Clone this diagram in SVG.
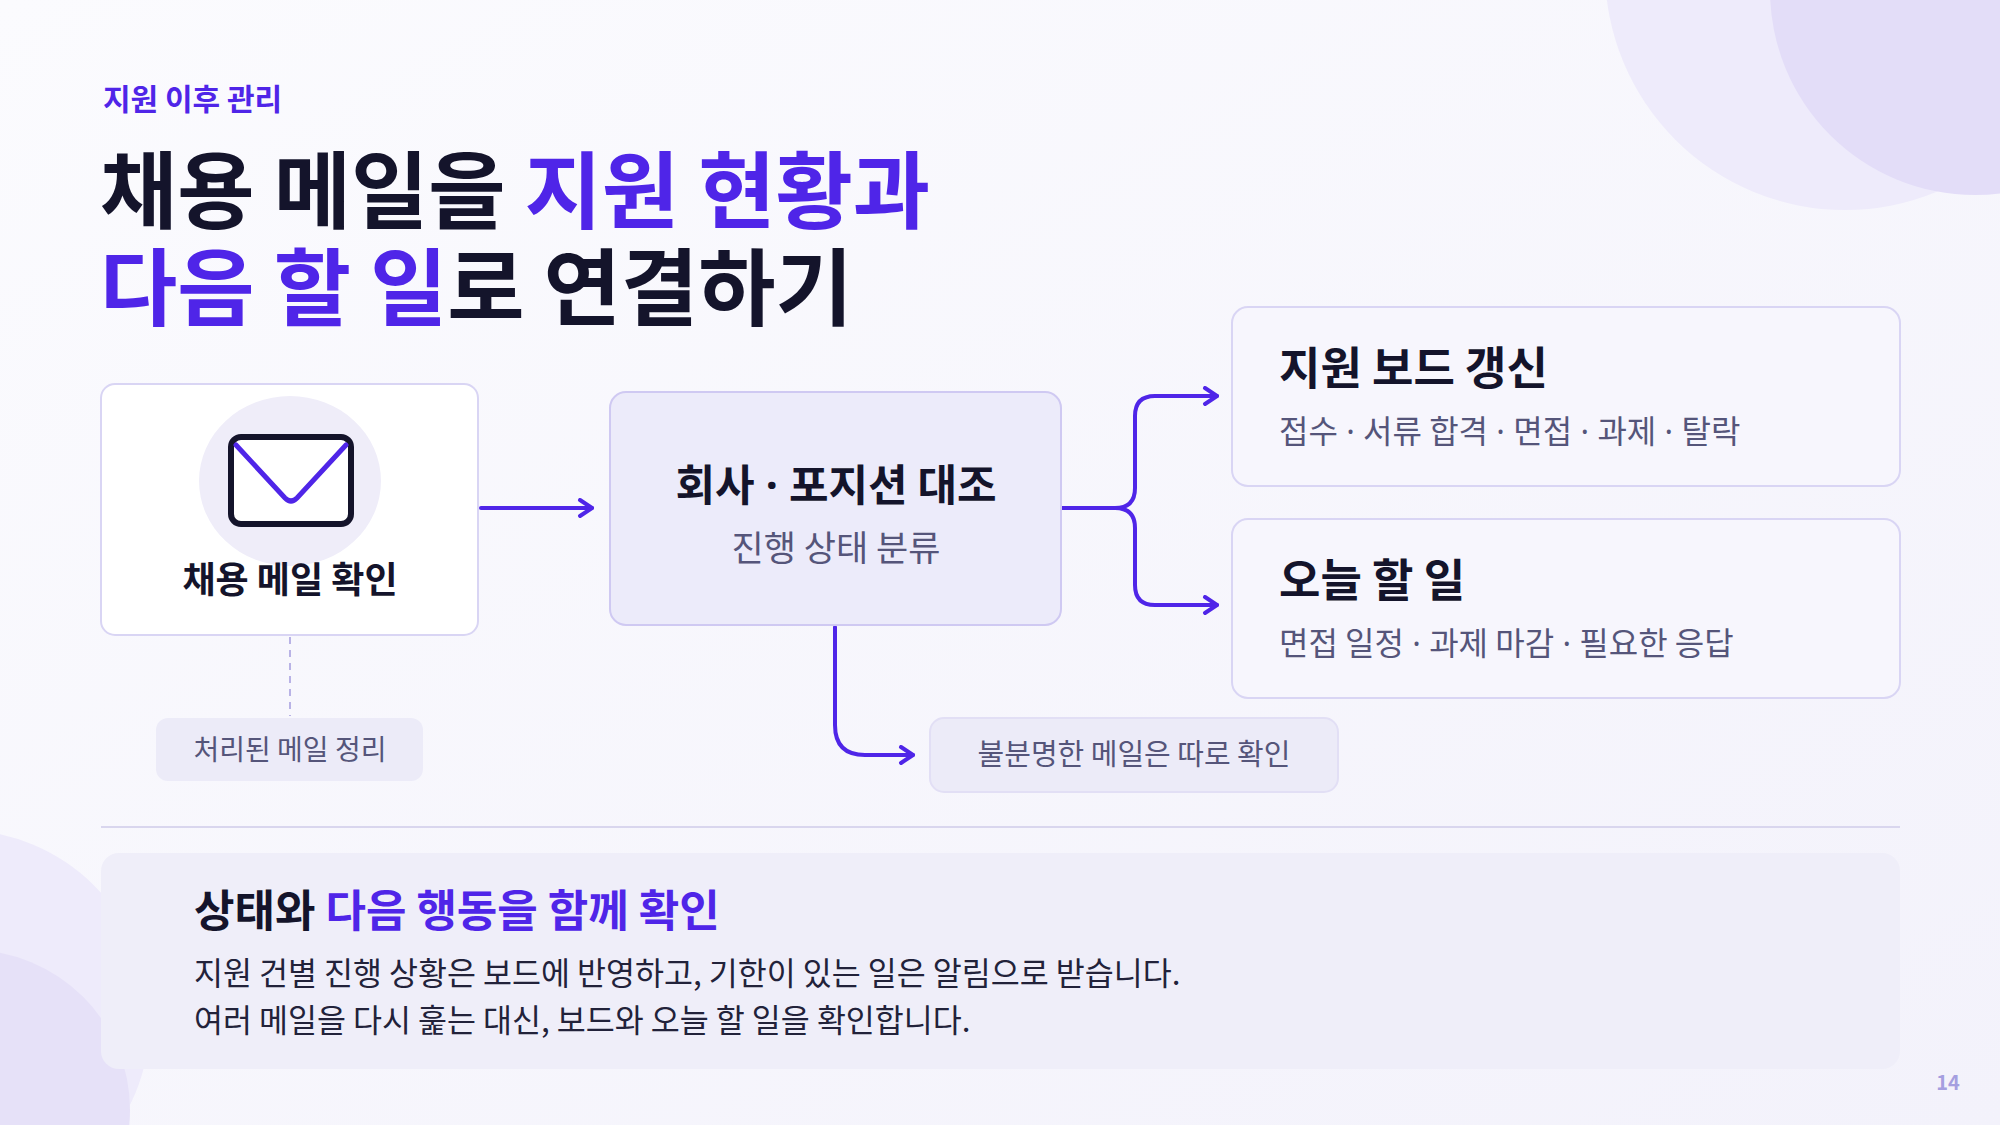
<svg xmlns="http://www.w3.org/2000/svg" width="2000" height="1125" viewBox="0 0 2000 1125">
<defs>
<style>
text{font-family:"Noto Sans CJK KR","Noto Sans",sans-serif}
.b{font-weight:700}
.dk{fill:#14142b}
.pu{fill:#4f25e8}
.sub{fill:#55557a}
.dot{font-family:"Noto Sans",sans-serif}
.card{fill:#f7f6fd;stroke:#d9d5f4;stroke-width:2}
.pill{fill:#ecebf8}
.con{fill:none;stroke:#4f25e8;stroke-width:4;stroke-linecap:round;stroke-linejoin:round}
</style>
<marker id="ah" viewBox="0 0 20 20" refX="16" refY="10" markerWidth="20" markerHeight="20" markerUnits="userSpaceOnUse" orient="auto">
<path d="M4 2 L16 10 L4 18" fill="none" stroke="#4f25e8" stroke-width="4" stroke-linecap="round" stroke-linejoin="round"/>
</marker>
<linearGradient id="bg" x1="0" y1="0" x2="1" y2="1"><stop offset="0" stop-color="#fbfbfe"/><stop offset="1" stop-color="#f3f2fb"/></linearGradient>
</defs>
<rect width="2000" height="1125" fill="url(#bg)"/>
<circle cx="1845" cy="-30" r="240" fill="#eeebfb"/>
<circle cx="1975" cy="-10" r="205" fill="#e3ddf8"/>
<circle cx="-40" cy="1020" r="190" fill="#eeebfb"/>
<circle cx="-30" cy="1110" r="160" fill="#e6e1f8"/>

<g id="header">
<text x="103" y="110" font-size="30" class="b pu">지원 이후 관리</text>
<text x="100" y="222" font-size="84" class="b dk">채용 메일을 <tspan class="pu">지원 현황과</tspan></text>
<text x="100" y="319" font-size="84" class="b pu">다음 할 일<tspan class="dk">로 연결하기</tspan></text>
</g>

<g id="connectors">
<line x1="290" y1="637" x2="290" y2="716" stroke="#b9b3e6" stroke-width="2" stroke-dasharray="7 6"/>
<path class="con" d="M481 508 H592" marker-end="url(#ah)"/>
<path class="con" d="M1062 508 H1115 Q1135 508 1135 488 V416 Q1135 396 1155 396 H1217" marker-end="url(#ah)"/>
<path class="con" d="M1115 508 Q1135 508 1135 528 V585 Q1135 605 1155 605 H1217" marker-end="url(#ah)"/>
<path class="con" d="M835 627 V725 Q835 755 865 755 H913" marker-end="url(#ah)"/>
</g>

<g id="mail">
<rect x="101" y="384" width="377" height="251" rx="14" fill="#ffffff" stroke="#d9d5f4" stroke-width="2"/>
<ellipse cx="290" cy="481" rx="91" ry="85" fill="#efedf9"/>
<rect x="231" y="437" width="120" height="87" rx="10" fill="#ffffff" stroke="#14142b" stroke-width="6"/>
<path d="M236 445 L285 498 Q291 504 297 498 L346 445" fill="none" stroke="#4f25e8" stroke-width="5" stroke-linecap="round"/>
<text x="290" y="593" font-size="36" text-anchor="middle" class="b dk">채용 메일 확인</text>
</g>

<g id="done">
<rect x="156" y="718" width="267" height="63" rx="12" class="pill"/>
<text x="290" y="760" font-size="28" text-anchor="middle" class="sub">처리된 메일 정리</text>
</g>

<g id="match">
<rect x="610" y="392" width="451" height="233" rx="16" fill="#ecebfa" stroke="#cfc9f2" stroke-width="2"/>
<text x="836" y="501" font-size="43" text-anchor="middle" class="b dk">회사<tspan class="dot"> · </tspan>포지션 대조</text>
<text x="836" y="561" font-size="35" text-anchor="middle" class="sub">진행 상태 분류</text>
</g>

<g id="board">
<rect x="1232" y="307" width="668" height="179" rx="16" class="card"/>
<text x="1279" y="385" font-size="45" class="b dk">지원 보드 갱신</text>
<text x="1279" y="443" font-size="32" class="sub">접수<tspan class="dot"> · </tspan>서류 합격<tspan class="dot"> · </tspan>면접<tspan class="dot"> · </tspan>과제<tspan class="dot"> · </tspan>탈락</text>
</g>

<g id="today">
<rect x="1232" y="519" width="668" height="179" rx="16" class="card"/>
<text x="1279" y="597" font-size="45" class="b dk">오늘 할 일</text>
<text x="1279" y="655" font-size="32" class="sub">면접 일정<tspan class="dot"> · </tspan>과제 마감<tspan class="dot"> · </tspan>필요한 응답</text>
</g>

<g id="unclear">
<rect x="930" y="718" width="408" height="74" rx="14" class="pill" stroke="#e2dff5" stroke-width="2"/>
<text x="1134" y="765" font-size="29" text-anchor="middle" class="sub">불분명한 메일은 따로 확인</text>
</g>

<line x1="101" y1="827" x2="1900" y2="827" stroke="#d9d6ee" stroke-width="2"/>

<g id="summary">
<rect x="101" y="853" width="1799" height="216" rx="18" fill="#efeef9"/>
<text x="194" y="927" font-size="44" class="b dk">상태와 <tspan class="pu">다음 행동을 함께 확인</tspan></text>
<text x="194" y="985" font-size="31.5" fill="#22223a">지원 건별 진행 상황은 보드에 반영하고, 기한이 있는 일은 알림으로 받습니다.</text>
<text x="194" y="1032" font-size="31.5" fill="#22223a">여러 메일을 다시 훑는 대신, 보드와 오늘 할 일을 확인합니다.</text>
</g>
<text x="1948" y="1090" font-size="20" text-anchor="middle" class="b" fill="#a59fe0">14</text>
</svg>
